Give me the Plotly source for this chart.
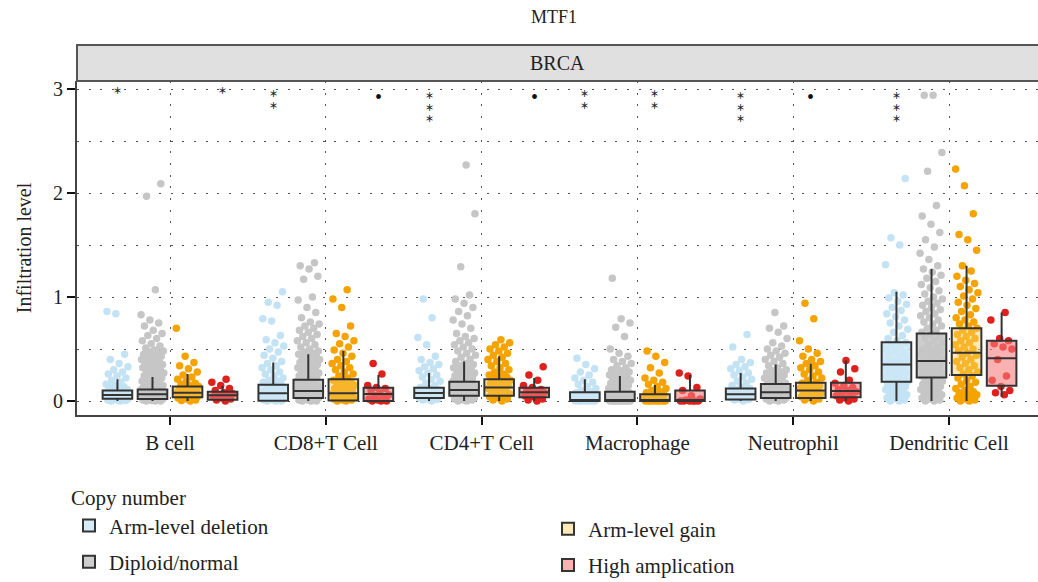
import plotly.graph_objects as go

# ---- categories -----------------------------------------------------------
cell_types = ["B cell", "CD8+T Cell", "CD4+T Cell", "Macrophage", "Neutrophil", "Dendritic Cell"]
copy_groups = ["Arm-level deletion", "Diploid/normal", "Arm-level gain", "High amplication"]
y_ticks = [0, 1, 2, 3]

# ---- box summaries (one value per cell type) -------------------------------
del_q1 = [0.022, 0.003, 0.030, 0.000, 0.015, 0.185]
del_med = [0.058, 0.074, 0.078, 0.003, 0.064, 0.350]
del_q3 = [0.100, 0.157, 0.128, 0.083, 0.120, 0.565]
del_lo = [0.000, 0.000, 0.000, 0.000, 0.000, 0.000]
del_hi = [0.210, 0.370, 0.270, 0.210, 0.270, 1.050]

dip_q1 = [0.020, 0.030, 0.050, 0.000, 0.030, 0.225]
dip_med = [0.064, 0.096, 0.105, 0.010, 0.083, 0.385]
dip_q3 = [0.110, 0.205, 0.185, 0.090, 0.163, 0.650]
dip_lo = [0.000, 0.000, 0.000, 0.000, 0.000, 0.000]
dip_hi = [0.230, 0.450, 0.380, 0.240, 0.350, 1.270]

gain_q1 = [0.035, 0.005, 0.050, 0.000, 0.030, 0.250]
gain_med = [0.080, 0.074, 0.130, 0.010, 0.100, 0.465]
gain_q3 = [0.140, 0.210, 0.210, 0.064, 0.176, 0.700]
gain_lo = [0.000, 0.000, 0.000, 0.000, 0.000, 0.000]
gain_hi = [0.260, 0.480, 0.430, 0.155, 0.360, 1.300]

amp_q1 = [0.012, 0.000, 0.035, 0.000, 0.035, 0.147]
amp_med = [0.055, 0.067, 0.083, 0.000, 0.096, 0.410]
amp_q3 = [0.090, 0.128, 0.128, 0.100, 0.176, 0.580]
amp_lo = [0.000, 0.000, 0.000, 0.000, 0.000, 0.040]
amp_hi = [0.145, 0.250, 0.220, 0.250, 0.390, 0.850]

# ---- sample infiltration levels --------------------------------------------
del_pts = [
    [0.00, 0.00, 0.005, 0.01, 0.01, 0.015, 0.02, 0.02, 0.025, 0.03, 0.03, 0.035, 0.04, 0.04, 0.045, 0.05, 0.05,
     0.055, 0.06, 0.06, 0.065, 0.07, 0.07, 0.08, 0.08, 0.09, 0.09, 0.10, 0.11, 0.12, 0.13, 0.14, 0.15, 0.16, 0.18,
     0.20, 0.22, 0.24, 0.26, 0.28, 0.30, 0.33, 0.36, 0.40, 0.45, 0.84, 0.86],
    [0.00, 0.00, 0.00, 0.01, 0.01, 0.02, 0.02, 0.03, 0.03, 0.04, 0.04, 0.05, 0.05, 0.06, 0.07, 0.08, 0.09, 0.10,
     0.11, 0.12, 0.13, 0.14, 0.15, 0.16, 0.17, 0.18, 0.19, 0.20, 0.22, 0.24, 0.26, 0.28, 0.30, 0.32, 0.34, 0.36,
     0.38, 0.41, 0.44, 0.47, 0.50, 0.53, 0.56, 0.59, 0.63, 0.77, 0.79, 0.92, 0.95, 1.05],
    [0.00, 0.01, 0.015, 0.02, 0.03, 0.035, 0.04, 0.05, 0.055, 0.06, 0.07, 0.075, 0.08, 0.09, 0.10, 0.11, 0.12,
     0.13, 0.15, 0.17, 0.19, 0.21, 0.23, 0.25, 0.27, 0.29, 0.31, 0.33, 0.35, 0.37, 0.40, 0.43, 0.54, 0.61, 0.80,
     0.98],
    [0.00, 0.00, 0.00, 0.00, 0.00, 0.00, 0.00, 0.00, 0.01, 0.01, 0.02, 0.02, 0.03, 0.04, 0.05, 0.06, 0.07, 0.08,
     0.09, 0.10, 0.12, 0.14, 0.16, 0.18, 0.20, 0.22, 0.25, 0.28, 0.31, 0.35, 0.41],
    [0.00, 0.01, 0.015, 0.02, 0.03, 0.035, 0.04, 0.05, 0.055, 0.06, 0.07, 0.08, 0.09, 0.10, 0.11, 0.12, 0.13,
     0.15, 0.17, 0.19, 0.21, 0.23, 0.25, 0.27, 0.29, 0.31, 0.33, 0.35, 0.37, 0.40, 0.52, 0.64],
    [0.00, 0.00, 0.01, 0.02, 0.03, 0.04, 0.05, 0.06, 0.07, 0.08, 0.09, 0.10, 0.11, 0.12, 0.13, 0.14, 0.15, 0.16,
     0.17, 0.18, 0.19, 0.20, 0.21, 0.22, 0.23, 0.24, 0.25, 0.26, 0.27, 0.28, 0.29, 0.30, 0.31, 0.32, 0.33, 0.34,
     0.35, 0.36, 0.37, 0.38, 0.39, 0.40, 0.42, 0.44, 0.46, 0.48, 0.50, 0.52, 0.54, 0.56, 0.58, 0.60, 0.63, 0.66,
     0.69, 0.72, 0.75, 0.78, 0.81, 0.84, 0.87, 0.90, 0.93, 0.96, 0.99, 1.02, 1.04, 1.31, 1.50, 1.57, 2.14],
]
dip_pts = [
    [0.00, 0.00, 0.00, 0.005, 0.01, 0.01, 0.015, 0.02, 0.02, 0.025, 0.03, 0.03, 0.035, 0.04, 0.04, 0.045, 0.05,
     0.05, 0.055, 0.06, 0.06, 0.065, 0.07, 0.07, 0.075, 0.08, 0.08, 0.085, 0.09, 0.09, 0.095, 0.10, 0.10, 0.11,
     0.11, 0.12, 0.12, 0.13, 0.13, 0.14, 0.14, 0.15, 0.15, 0.16, 0.17, 0.18, 0.19, 0.20, 0.21, 0.22, 0.23, 0.24,
     0.25, 0.26, 0.27, 0.28, 0.29, 0.30, 0.31, 0.32, 0.33, 0.34, 0.35, 0.36, 0.37, 0.38, 0.39, 0.40, 0.41, 0.42,
     0.43, 0.44, 0.45, 0.46, 0.47, 0.48, 0.49, 0.51, 0.53, 0.55, 0.58, 0.60, 0.63, 0.65, 0.68, 0.72, 0.75, 0.78,
     0.83, 1.07, 1.97, 2.09],
    [0.00, 0.00, 0.00, 0.01, 0.01, 0.02, 0.02, 0.03, 0.03, 0.04, 0.04, 0.05, 0.05, 0.06, 0.06, 0.07, 0.07, 0.08,
     0.08, 0.09, 0.09, 0.10, 0.10, 0.11, 0.11, 0.12, 0.12, 0.13, 0.14, 0.15, 0.16, 0.17, 0.18, 0.19, 0.20, 0.21,
     0.22, 0.23, 0.24, 0.25, 0.26, 0.27, 0.28, 0.29, 0.30, 0.31, 0.32, 0.33, 0.34, 0.35, 0.36, 0.37, 0.38, 0.39,
     0.40, 0.41, 0.42, 0.43, 0.44, 0.45, 0.46, 0.47, 0.48, 0.50, 0.52, 0.54, 0.56, 0.58, 0.60, 0.62, 0.64, 0.66,
     0.68, 0.70, 0.72, 0.74, 0.76, 0.80, 0.85, 0.90, 0.97, 1.00, 1.17, 1.20, 1.27, 1.30, 1.33],
    [0.00, 0.00, 0.01, 0.01, 0.02, 0.02, 0.03, 0.03, 0.04, 0.04, 0.05, 0.05, 0.06, 0.06, 0.07, 0.07, 0.08, 0.08,
     0.09, 0.09, 0.10, 0.10, 0.11, 0.11, 0.12, 0.12, 0.13, 0.13, 0.14, 0.15, 0.16, 0.17, 0.18, 0.19, 0.20, 0.21,
     0.22, 0.23, 0.24, 0.25, 0.26, 0.27, 0.28, 0.29, 0.30, 0.31, 0.32, 0.33, 0.34, 0.35, 0.36, 0.38, 0.40, 0.42,
     0.44, 0.46, 0.48, 0.50, 0.52, 0.54, 0.56, 0.58, 0.60, 0.62, 0.65, 0.70, 0.74, 0.78, 0.82, 0.86, 0.90, 0.94,
     0.98, 1.02, 1.29, 1.80, 2.27],
    [0.00, 0.00, 0.00, 0.00, 0.00, 0.00, 0.00, 0.00, 0.00, 0.00, 0.00, 0.00, 0.005, 0.01, 0.01, 0.015, 0.02, 0.02,
     0.03, 0.03, 0.04, 0.04, 0.05, 0.05, 0.06, 0.06, 0.07, 0.07, 0.08, 0.08, 0.09, 0.10, 0.11, 0.12, 0.13, 0.14,
     0.15, 0.16, 0.17, 0.18, 0.19, 0.20, 0.21, 0.22, 0.23, 0.24, 0.25, 0.26, 0.27, 0.28, 0.29, 0.30, 0.32, 0.34,
     0.36, 0.38, 0.40, 0.43, 0.46, 0.50, 0.62, 0.71, 0.75, 0.79, 1.18],
    [0.00, 0.00, 0.01, 0.01, 0.02, 0.02, 0.03, 0.03, 0.04, 0.04, 0.05, 0.05, 0.06, 0.06, 0.07, 0.07, 0.08, 0.08,
     0.09, 0.09, 0.10, 0.10, 0.11, 0.12, 0.13, 0.14, 0.15, 0.16, 0.17, 0.18, 0.19, 0.20, 0.21, 0.22, 0.23, 0.24,
     0.25, 0.26, 0.27, 0.28, 0.29, 0.30, 0.32, 0.34, 0.36, 0.38, 0.40, 0.42, 0.44, 0.46, 0.48, 0.50, 0.53, 0.56,
     0.60, 0.66, 0.70, 0.72, 0.85],
    [0.00, 0.00, 0.01, 0.02, 0.03, 0.04, 0.05, 0.06, 0.07, 0.08, 0.09, 0.10, 0.11, 0.12, 0.13, 0.14, 0.15, 0.16,
     0.17, 0.18, 0.19, 0.20, 0.21, 0.22, 0.23, 0.24, 0.25, 0.26, 0.27, 0.28, 0.29, 0.30, 0.31, 0.32, 0.33, 0.34,
     0.35, 0.36, 0.37, 0.38, 0.39, 0.40, 0.41, 0.42, 0.43, 0.44, 0.45, 0.46, 0.47, 0.48, 0.49, 0.50, 0.52, 0.54,
     0.56, 0.58, 0.60, 0.62, 0.64, 0.66, 0.68, 0.70, 0.72, 0.74, 0.76, 0.78, 0.80, 0.82, 0.84, 0.86, 0.88, 0.90,
     0.92, 0.94, 0.96, 0.98, 1.00, 1.03, 1.06, 1.09, 1.12, 1.15, 1.18, 1.21, 1.24, 1.27, 1.30, 1.36, 1.42, 1.48,
     1.55, 1.62, 1.70, 1.78, 1.88, 2.21, 2.39, 2.94, 2.94],
]
gain_pts = [
    [0.00, 0.005, 0.01, 0.02, 0.03, 0.03, 0.04, 0.045, 0.05, 0.06, 0.065, 0.07, 0.08, 0.08, 0.09, 0.10, 0.10,
     0.11, 0.12, 0.13, 0.14, 0.15, 0.16, 0.17, 0.19, 0.21, 0.23, 0.25, 0.28, 0.31, 0.34, 0.37, 0.43, 0.70],
    [0.00, 0.00, 0.01, 0.01, 0.02, 0.02, 0.03, 0.03, 0.04, 0.05, 0.05, 0.06, 0.07, 0.08, 0.09, 0.10, 0.11, 0.12,
     0.13, 0.14, 0.15, 0.16, 0.17, 0.18, 0.19, 0.20, 0.22, 0.24, 0.26, 0.28, 0.30, 0.32, 0.34, 0.36, 0.38, 0.40,
     0.43, 0.46, 0.49, 0.52, 0.55, 0.58, 0.62, 0.65, 0.72, 0.90, 0.98, 1.07],
    [0.00, 0.01, 0.02, 0.03, 0.04, 0.05, 0.06, 0.07, 0.08, 0.09, 0.10, 0.11, 0.12, 0.13, 0.14, 0.15, 0.16, 0.17,
     0.18, 0.19, 0.20, 0.21, 0.22, 0.23, 0.24, 0.25, 0.26, 0.28, 0.30, 0.32, 0.34, 0.36, 0.38, 0.40, 0.42, 0.44,
     0.46, 0.48, 0.50, 0.52, 0.54, 0.56, 0.59],
    [0.00, 0.00, 0.00, 0.00, 0.00, 0.00, 0.00, 0.00, 0.01, 0.01, 0.02, 0.02, 0.03, 0.04, 0.05, 0.06, 0.07, 0.08,
     0.09, 0.10, 0.12, 0.14, 0.16, 0.18, 0.20, 0.22, 0.27, 0.32, 0.37, 0.43, 0.48],
    [0.00, 0.01, 0.02, 0.03, 0.04, 0.05, 0.06, 0.07, 0.08, 0.09, 0.10, 0.11, 0.12, 0.13, 0.14, 0.15, 0.16, 0.17,
     0.18, 0.20, 0.22, 0.24, 0.26, 0.28, 0.30, 0.32, 0.34, 0.36, 0.38, 0.40, 0.43, 0.46, 0.50, 0.58, 0.79, 0.94],
    [0.00, 0.00, 0.01, 0.02, 0.03, 0.04, 0.05, 0.06, 0.07, 0.08, 0.09, 0.10, 0.12, 0.14, 0.16, 0.18, 0.20, 0.22,
     0.24, 0.26, 0.28, 0.30, 0.32, 0.34, 0.36, 0.38, 0.40, 0.42, 0.44, 0.46, 0.48, 0.50, 0.52, 0.54, 0.56, 0.58,
     0.60, 0.62, 0.64, 0.66, 0.68, 0.70, 0.72, 0.74, 0.76, 0.78, 0.80, 0.83, 0.86, 0.89, 0.92, 0.95, 0.98, 1.01,
     1.04, 1.07, 1.10, 1.13, 1.16, 1.20, 1.25, 1.30, 1.45, 1.55, 1.60, 1.80, 2.07, 2.23],
]
amp_pts = [
    [0.00, 0.01, 0.02, 0.03, 0.04, 0.05, 0.06, 0.07, 0.08, 0.10, 0.12, 0.15, 0.18, 0.21],
    [0.00, 0.00, 0.00, 0.01, 0.02, 0.03, 0.05, 0.06, 0.08, 0.10, 0.12, 0.13, 0.15, 0.26, 0.36],
    [0.00, 0.01, 0.02, 0.04, 0.05, 0.06, 0.07, 0.08, 0.09, 0.10, 0.11, 0.13, 0.15, 0.20, 0.25, 0.33],
    [0.00, 0.00, 0.00, 0.00, 0.00, 0.00, 0.01, 0.02, 0.05, 0.10, 0.13, 0.24, 0.27],
    [0.00, 0.01, 0.02, 0.03, 0.05, 0.06, 0.08, 0.09, 0.10, 0.11, 0.13, 0.15, 0.17, 0.20, 0.28, 0.31, 0.39],
    [0.06, 0.08, 0.10, 0.14, 0.20, 0.24, 0.40, 0.50, 0.52, 0.55, 0.58, 0.60, 0.78, 0.85],
]

# ---- significance marks: cell type index, copy group index, label ----------
sig_cell = [0, 0, 1, 1, 2, 2, 3, 3, 4, 4, 5]
sig_group = [0, 3, 0, 3, 0, 3, 0, 2, 0, 2, 0]
sig_label = ["*", "*", "**", "•", "***", "•", "**", "**", "***", "•", "***"]

# ---- styling ---------------------------------------------------------------
FONT = "Liberation Serif"
STAR_FONT = "Noto Sans CJK SC"
INK = "#222222"
point_colors = ["#c3e2f3", "#c6c6c6", "#f5a300", "#e0201c"]
box_fills = ["rgba(205,232,246,0.85)", "rgba(198,198,198,0.85)",
             "rgba(250,205,95,0.45)", "rgba(247,125,125,0.6)"]
box_stats = [
    (del_q1, del_med, del_q3, del_lo, del_hi),
    (dip_q1, dip_med, dip_q3, dip_lo, dip_hi),
    (gain_q1, gain_med, gain_q3, gain_lo, gain_hi),
    (amp_q1, amp_med, amp_q3, amp_lo, amp_hi),
]
group_pts = [del_pts, dip_pts, gain_pts, amp_pts]
legend_of = ["legend", "legend", "legend2", "legend2"]

DODGE = 0.9 / 4
BOX_W = 0.19
JITTER = 0.074          # half-width of the horizontal jitter, in category units
GOLDEN = 0.6180339887   # low-discrepancy spread of the jitter offsets
offsets = [(g - 1.5) * DODGE for g in range(4)]
y_range = [-0.1346, 3.077]
x_range = [-0.597, 5.571]

fig = go.Figure()

# jittered samples (drawn underneath the boxes)
for g in range(4):
    xs, ys = [], []
    for c, vals in enumerate(group_pts[g]):
        for k, v in enumerate(vals):
            spread = ((k + 1) * GOLDEN) % 1.0 - 0.5
            xs.append(c + offsets[g] + 2 * JITTER * spread)
            ys.append(v)
    fig.add_trace(go.Scatter(
        x=xs, y=ys, mode="markers",
        marker=dict(color=point_colors[g], size=7.5, line=dict(width=0)),
        showlegend=False, xaxis="x", yaxis="y", name=copy_groups[g],
    ))

# box-and-whisker summaries on an overlaid axis so they sit above the samples
for g in range(4):
    q1, med, q3, lo, hi = box_stats[g]
    fig.add_trace(go.Box(
        x=[c + offsets[g] for c in range(len(cell_types))],
        q1=q1, median=med, q3=q3, lowerfence=lo, upperfence=hi,
        width=BOX_W, whiskerwidth=0, boxpoints=False,
        fillcolor=box_fills[g], line=dict(color="#333333", width=2),
        name=copy_groups[g], legend=legend_of[g], legendgroup=copy_groups[g],
        xaxis="x", yaxis="y2",
    ))

# significance marks: one label each, stars stacked one per line
for c, g, lab in zip(sig_cell, sig_group, sig_label):
    xpos = c + offsets[g]
    if lab == "•":
        fig.add_annotation(x=xpos, y=3, xref="x", yref="y", text="•", showarrow=False,
                           yanchor="middle", yshift=-8, font=dict(family=FONT, size=20, color="#111"))
    else:
        n = len(lab)
        fig.add_annotation(x=xpos, y=3, xref="x", yref="y",
                           text="<br>".join("＊" for _ in range(n)), showarrow=False,
                           yanchor="top", borderpad=0, yshift=6 - 2.5 * (n - 1),
                           font=dict(family=STAR_FONT, size=9, color="#222", weight="bold"))

# facet strip
fig.add_shape(type="rect", xref="paper", yref="paper", x0=0, x1=1.01, y0=1.0, y1=1.1078,
              fillcolor="#e1e0e1", line=dict(color="#555555", width=2), layer="above")
fig.add_annotation(x=0.5, y=1.054, xref="paper", yref="paper", text="BRCA", showarrow=False,
                   yanchor="middle", font=dict(family=FONT, size=20, color=INK))

grid = dict(showgrid=True, gridcolor="#555555", gridwidth=1.2, griddash="2px,9.7px")

fig.update_layout(
    width=1038, height=582,
    margin=dict(l=77, r=0, t=81, b=167, autoexpand=False),
    paper_bgcolor="white", plot_bgcolor="white",
    font=dict(family=FONT, size=20, color=INK),
    title=dict(text="MTF1", x=554 / 1038, xref="container", xanchor="center",
               y=1 - 17 / 582, yref="container", yanchor="middle",
               font=dict(family=FONT, size=18, color=INK)),
    xaxis=dict(range=x_range, tickmode="array", tickvals=list(range(len(cell_types))),
               ticktext=cell_types, tickfont=dict(size=21), ticks="outside", ticklen=8,
               tickwidth=2, tickcolor="#111", showline=True, linecolor="#444444", linewidth=2,
               zeroline=False, **grid),
    yaxis=dict(range=y_range, tickmode="array", tickvals=y_ticks,
               ticktext=[str(v) for v in y_ticks], tickfont=dict(size=20),
               ticks="outside", ticklen=8, tickwidth=2, tickcolor="#111",
               showline=True, linecolor="#444444", linewidth=2, zeroline=False,
               title=dict(text="Infiltration level", font=dict(size=20), standoff=16),
               minor=dict(tickvals=[0.5, 1.5, 2.5], ticks="", **grid), **grid),
    yaxis2=dict(range=y_range, overlaying="y", visible=False),
    legend=dict(title=dict(text="Copy number", font=dict(size=21)), font=dict(size=21),
                x=-8 / 961, y=-63 / 334, xanchor="left", yanchor="top", orientation="v",
                tracegroupgap=6, bgcolor="rgba(0,0,0,0)"),
    legend2=dict(font=dict(size=21), x=471 / 961, y=-93.5 / 334, xanchor="left", yanchor="top",
                 orientation="v", tracegroupgap=6, bgcolor="rgba(0,0,0,0)"),
)

fig.write_html("out.html")
